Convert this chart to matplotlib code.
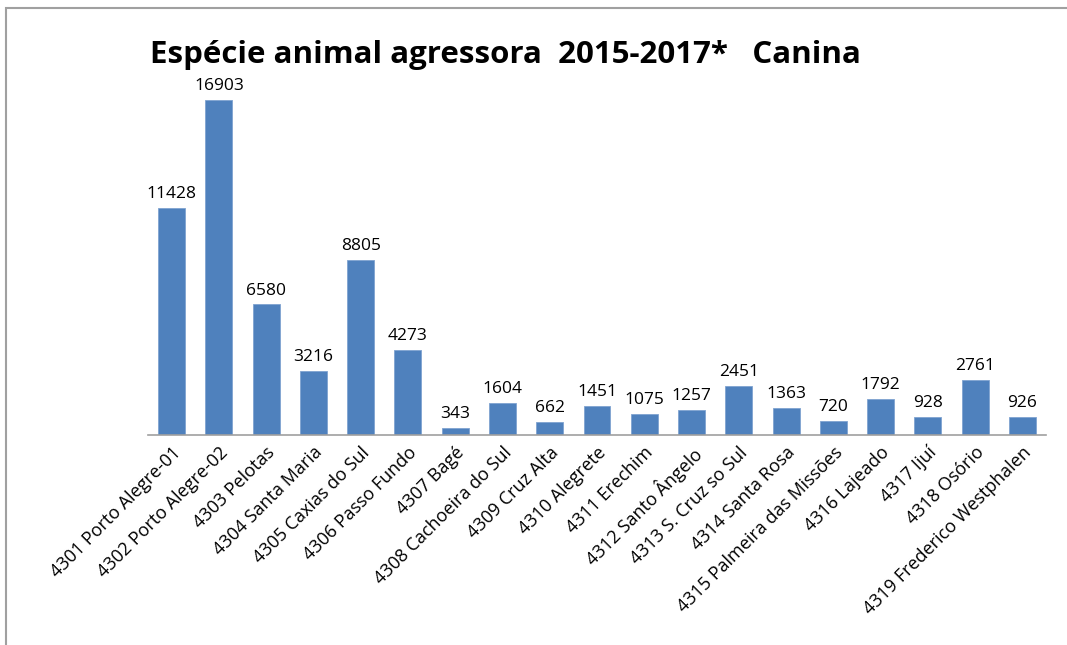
import matplotlib.pyplot as plt
from matplotlib.patches import Rectangle

regionais = ['4301 Porto Alegre-01', '4302 Porto Alegre-02', '4303 Pelotas',
             '4304 Santa Maria', '4305 Caxias do Sul', '4306 Passo Fundo',
             '4307 Bagé', '4308 Cachoeira do Sul', '4309 Cruz Alta',
             '4310 Alegrete', '4311 Erechim', '4312 Santo Ângelo',
             '4313 S. Cruz so Sul', '4314 Santa Rosa', '4315 Palmeira das Missões',
             '4316 Lajeado', '4317 Ijuí', '4318 Osório', '4319 Frederico Westphalen']
casos = [11428, 16903, 6580, 3216, 8805, 4273, 343, 1604, 662, 1451,
         1075, 1257, 2451, 1363, 720, 1792, 928, 2761, 926]

TITLE = 'Espécie animal agressora  2015-2017*   Canina'
FONT = ['Open Sans', 'DejaVu Sans']

fig = plt.figure(figsize=(10.67, 6.45), dpi=100)
ax = fig.add_axes([0.1387, 0.3256, 0.8416, 0.5535])

x = range(len(casos))
bars = ax.bar(x, casos, width=0.57, color='#4F81BD', edgecolor='#7FA3D0', linewidth=0.6)
for xi, v in zip(x, casos):
    ax.text(xi, v + 300, str(v), ha='center', va='bottom', fontsize=12.5, family=FONT)

ax.set_xlim(-0.5, len(casos) - 0.5)
ax.set_ylim(0, 18000)
ax.set_xticks(list(x))
ax.set_xticklabels(regionais, rotation=45, ha='right', rotation_mode='anchor',
                   fontsize=13, family=FONT)
ax.tick_params(axis='x', length=0, pad=6)
ax.set_yticks([])
for s in ['top', 'right', 'left']:
    ax.spines[s].set_visible(False)
ax.spines['bottom'].set_color('#A0A0A0')
ax.spines['bottom'].set_linewidth(1.2)

fig.text(0.474, 0.914, TITLE, ha='center', va='center', fontsize=22.5,
         fontweight='bold', family=FONT)

# frame around chart area
fig.patches.append(Rectangle((6 / 1067, -0.1), 1.2, 1.1 - 8 / 645, transform=fig.transFigure,
                             fill=False, edgecolor='#A0A0A0', linewidth=1.5))

fig.savefig('out.png', dpi=100)
